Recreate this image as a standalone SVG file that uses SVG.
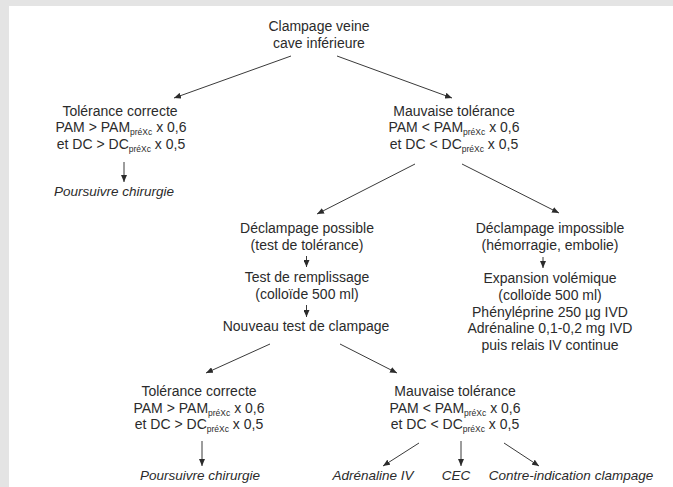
<svg xmlns="http://www.w3.org/2000/svg" width="673" height="487" viewBox="0 0 673 487">
<style>
text{font-family:"Liberation Sans",Arial,sans-serif;font-size:14px;fill:#2b2b2b;text-anchor:middle}
.it{font-style:italic;font-size:13.5px}
.sub{font-size:8.5px}
.ln{stroke:#3a3a3a;stroke-width:1;fill:none;marker-end:url(#ah)}
</style>
<defs>
<marker id="ah" markerUnits="userSpaceOnUse" markerWidth="8" markerHeight="6" refX="7" refY="3" orient="auto">
<path d="M0,0 L7,3 L0,6 z" fill="#2b2b2b"/>
</marker>
</defs>
<rect width="673" height="487" fill="#e4e4e4"/>
<rect x="9" y="6" width="664" height="481" fill="#ffffff"/>

<g id="connectors">
<line class="ln" x1="291" y1="56" x2="174" y2="98"/>
<line class="ln" x1="337" y1="56" x2="452" y2="98"/>
<line class="ln" x1="124" y1="162" x2="124" y2="182"/>
<line class="ln" x1="415" y1="164" x2="317" y2="214"/>
<line class="ln" x1="462" y1="164" x2="559" y2="213"/>
<line class="ln" x1="306.5" y1="256" x2="306.5" y2="267"/>
<line class="ln" x1="306.5" y1="305" x2="306.5" y2="317"/>
<line class="ln" x1="543" y1="257" x2="543" y2="268"/>
<line class="ln" x1="270" y1="344" x2="206" y2="373"/>
<line class="ln" x1="340" y1="344" x2="397" y2="373"/>
<line class="ln" x1="202" y1="441" x2="202" y2="466"/>
<line class="ln" x1="419" y1="443" x2="383" y2="466"/>
<line class="ln" x1="461" y1="441" x2="461" y2="466"/>
<line class="ln" x1="504" y1="443" x2="539" y2="466"/>
</g>

<g id="n-clampage">
<text x="319" y="31">Clampage veine</text>
<text x="319" y="47.5">cave inférieure</text>
</g>

<g id="n-tol1">
<text x="120" y="115.5">Tolérance correcte</text>
<text x="121" y="132">PAM &gt; PAM<tspan class="sub" dy="3">préXc</tspan><tspan dy="-3"> x 0,6</tspan></text>
<text x="121" y="148.5">et DC &gt; DC<tspan class="sub" dy="3">préXc</tspan><tspan dy="-3"> x 0,5</tspan></text>
</g>

<g id="n-pours1">
<text class="it" x="114" y="195.5">Poursuivre chirurgie</text>
</g>

<g id="n-mauv1">
<text x="454" y="115.5">Mauvaise tolérance</text>
<text x="454" y="132">PAM &lt; PAM<tspan class="sub" dy="3">préXc</tspan><tspan dy="-3"> x 0,6</tspan></text>
<text x="454" y="148.5">et DC &lt; DC<tspan class="sub" dy="3">préXc</tspan><tspan dy="-3"> x 0,5</tspan></text>
</g>

<g id="n-declpos">
<text x="307" y="232.5">Déclampage possible</text>
<text x="307" y="249.5">(test de tolérance)</text>
</g>

<g id="n-remp">
<text x="307" y="282">Test de remplissage</text>
<text x="307" y="299">(colloïde 500 ml)</text>
</g>

<g id="n-nouveau">
<text x="306" y="331">Nouveau test de clampage</text>
</g>

<g id="n-declimp">
<text x="550" y="232.5">Déclampage impossible</text>
<text x="550" y="249.5">(hémorragie, embolie)</text>
</g>

<g id="n-expansion">
<text x="550" y="282.5">Expansion volémique</text>
<text x="550" y="299.5">(colloïde 500 ml)</text>
<text x="550" y="316.5">Phényléprine 250 µg IVD</text>
<text x="550" y="333">Adrénaline 0,1-0,2 mg IVD</text>
<text x="550" y="349.5">puis relais IV continue</text>
</g>

<g id="n-tol2">
<text x="199" y="396">Tolérance correcte</text>
<text x="199" y="412.5">PAM &gt; PAM<tspan class="sub" dy="3">préXc</tspan><tspan dy="-3"> x 0,6</tspan></text>
<text x="199" y="429">et DC &gt; DC<tspan class="sub" dy="3">préXc</tspan><tspan dy="-3"> x 0,5</tspan></text>
</g>

<g id="n-pours2">
<text class="it" x="200" y="480">Poursuivre chirurgie</text>
</g>

<g id="n-mauv2">
<text x="455" y="396">Mauvaise tolérance</text>
<text x="455" y="412.5">PAM &lt; PAM<tspan class="sub" dy="3">préXc</tspan><tspan dy="-3"> x 0,6</tspan></text>
<text x="455" y="429">et DC &lt; DC<tspan class="sub" dy="3">préXc</tspan><tspan dy="-3"> x 0,5</tspan></text>
</g>

<g id="n-adr">
<text class="it" x="373" y="480">Adrénaline IV</text>
</g>
<g id="n-cec">
<text class="it" x="456" y="480">CEC</text>
</g>
<g id="n-contre">
<text class="it" x="571" y="480">Contre-indication clampage</text>
</g>
</svg>
